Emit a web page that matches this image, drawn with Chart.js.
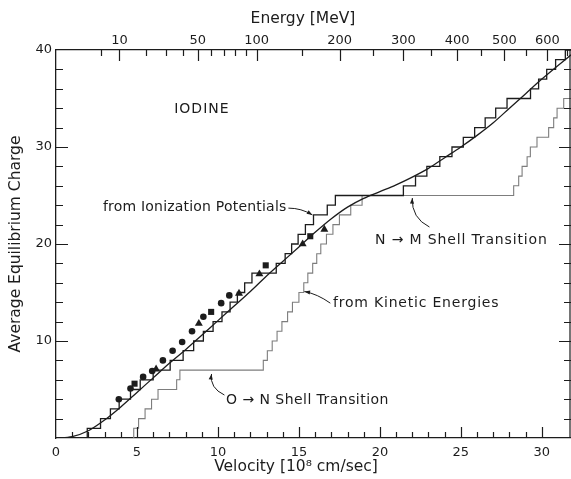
<!DOCTYPE html>
<html>
<head>
<meta charset="utf-8">
<title>Iodine equilibrium charge</title>
<script src="https://cdn.jsdelivr.net/npm/chart.js@4.4.1/dist/chart.umd.min.js"></script>
<style>
    html, body { margin: 0; padding: 0; background: #fff; }
    #chart { display: block; }
</style>
</head>
<body>
<canvas id="chart" width="571" height="479"></canvas>
<script>
// Axis ranges
const VEL_MAX = 31.8;      // velocity, 10^8 cm/sec
const CHARGE_MAX = 40;

// MeV per (10^8 cm/sec)^2 for iodine, places the energy axis on top
const MEV_PER_V2 = 0.652;

// Top axis ticks (MeV) and the ones that carry a label
const energyTicks = [5, 10, 20, 30, 40, 50, 60, 70, 80, 90, 100, 150, 200, 250, 300, 350, 400, 450, 500, 550, 600, 650];
const energyLabels = [10, 50, 100, 200, 300, 400, 500, 600];

// Smooth average equilibrium charge curve
const curveV = [0, 1, 2, 3, 4, 5, 6, 7, 8, 9, 10, 11, 12, 13, 14, 15, 16, 17, 18, 19, 20, 21, 22, 23, 24, 25, 26, 27, 28, 29, 30, 31, 31.8];
const curveQ = [0, 0.15, 0.75, 1.85, 3.2, 4.7, 6.2, 7.7, 9.1, 10.6, 12.1, 13.6, 15.1, 16.7, 18.2, 19.7, 21.2, 22.6, 23.8, 24.7, 25.4, 26.1, 26.9, 27.8, 28.9, 30.0, 31.2, 32.5, 34.0, 35.5, 37.0, 38.4, 39.5];

// Staircase from ionization potentials: velocity at which charge 1, 2, 3 ... is reached
const ionPotStepV = [1.93, 2.75, 3.36, 3.9, 4.6, 5.2, 6.0, 7.05, 7.85, 8.5,
    9.1, 9.7, 10.25, 10.75, 11.2, 11.65, 12.1, 13.6, 14.15, 14.55,
    14.95, 15.4, 15.9, 16.75, 17.25, 21.45, 22.2, 22.9, 23.7, 24.45,
    25.15, 25.85, 26.5, 27.15, 27.85, 29.3, 29.8, 30.3, 30.85, 31.45];

// Staircase from kinetic energies: velocity at which charge 1, 2, 3 ... is reached
const kinEnStepV = [4.8, 5.1, 5.5, 5.9, 6.3, 7.45, 7.65, 12.8, 13.05, 13.35,
    13.65, 13.95, 14.3, 14.6, 15.0, 15.3, 15.55, 15.85, 16.1, 16.35,
    16.7, 17.1, 17.5, 18.2, 18.9, 28.26, 28.57, 28.78, 29.09, 29.29,
    29.7, 30.42, 30.73, 30.94, 31.35];

// Measured points
const circleV = [3.88, 4.6, 5.38, 5.94, 6.6, 7.2, 7.79, 8.4, 9.1, 10.2, 10.7];
const circleQ = [4.0, 5.1, 6.3, 6.9, 8.0, 9.0, 9.9, 11.0, 12.5, 13.9, 14.7];
const squareV = [4.85, 9.58, 12.95, 15.7];
const squareQ = [5.6, 13.0, 17.8, 20.8];
const triangleV = [6.18, 8.82, 11.3, 12.56, 15.23, 16.57];
const triangleQ = [7.1, 11.8, 14.9, 16.9, 20.0, 21.5];

// Labels inside the plot (data coordinates of the left end of each text)
const notes = [
    { text: 'IODINE', v: 7.3, q: 33.9, size: 14, spacing: '1px' },
    { text: 'from Ionization Potentials', v: 2.9, q: 23.8, size: 14, spacing: '0.2px' },
    { text: 'from Kinetic Energies', v: 17.1, q: 13.9, size: 14, spacing: '0.8px' },
    { text: 'N \u2192 M Shell Transition', v: 19.7, q: 20.4, size: 14, spacing: '0.85px' },
    { text: 'O \u2192 N Shell Transition', v: 10.5, q: 3.9, size: 14, spacing: '0.45px' }
];

// Curved pointer arrows: start, control point, tip
const arrows = [
    { from: [14.35, 23.7], ctrl: [15.15, 23.7], to: [15.83, 23.0] },
    { from: [16.94, 13.9], ctrl: [16.14, 14.85], to: [15.34, 15.1] },
    { from: [23.06, 21.75], ctrl: [21.94, 22.68], to: [22.0, 24.74] },
    { from: [10.4, 4.43], ctrl: [9.48, 5.15], to: [9.6, 6.6] }
];

// Horizontal axis titles (pixel centre)
const axisTitles = [
    { text: 'Energy [MeV]', x: 303, y: 19 },
    { text: 'Velocity [10\u2078 cm/sec]', x: 296, y: 467 }
];

const INK = '#1c1c1c';
const GREY = '#7d7d7d';

Chart.defaults.font.family = "'DejaVu Sans', sans-serif";
Chart.defaults.color = INK;

function pairs(xs, ys) {
    return xs.map((x, i) => ({ x: x, y: ys[i] }));
}

// Turn step velocities into points for a 'before' stepped line
function stairPoints(stepV) {
    const pts = [{ x: stepV[0], y: 0 }];
    stepV.forEach((v, i) => pts.push({ x: v, y: i + 1 }));
    pts.push({ x: VEL_MAX, y: stepV.length });
    return pts;
}

function energyOf(v) {
    return Math.round(MEV_PER_V2 * v * v);
}

// Inward tick marks on all four sides plus the right frame line
const frameTicks = {
    id: 'frameTicks',
    afterDraw(chart) {
        const { ctx, chartArea: a, scales } = chart;
        ctx.save();
        ctx.strokeStyle = INK;
        ctx.lineWidth = 1.2;
        ctx.beginPath();
        scales.x.ticks.forEach(t => {
            if (!Number.isInteger(t.value) || t.value === 0) return;
            const px = Math.round(scales.x.getPixelForValue(t.value)) + 0.5;
            const len = t.value % 5 === 0 ? 11 : 6;
            ctx.moveTo(px, a.bottom);
            ctx.lineTo(px, a.bottom - len);
        });
        scales.xTop.ticks.forEach(t => {
            const px = Math.round(scales.xTop.getPixelForValue(t.value)) + 0.5;
            const len = energyLabels.includes(energyOf(t.value)) ? 11 : 6;
            ctx.moveTo(px, a.top);
            ctx.lineTo(px, a.top + len);
        });
        scales.y.ticks.forEach(t => {
            if (t.value <= 0 || t.value >= CHARGE_MAX) return;
            const py = Math.round(scales.y.getPixelForValue(t.value)) + 0.5;
            const len = t.value % 10 === 0 ? 12 : 7;
            ctx.moveTo(a.left, py);
            ctx.lineTo(a.left + len, py);
            ctx.moveTo(a.right, py);
            ctx.lineTo(a.right - len, py);
        });
        ctx.moveTo(a.right - 1, a.top);
        ctx.lineTo(a.right - 1, a.bottom);
        ctx.stroke();

        ctx.fillStyle = INK;
        ctx.font = "15.5px 'DejaVu Sans'";
        ctx.textAlign = 'center';
        ctx.textBaseline = 'middle';
        axisTitles.forEach(t => ctx.fillText(t.text, t.x, t.y));
        ctx.restore();
    }
};

// Text labels and curved arrows
const plotNotes = {
    id: 'plotNotes',
    afterDatasetsDraw(chart) {
        const { ctx, scales } = chart;
        const px = v => scales.x.getPixelForValue(v);
        const py = q => scales.y.getPixelForValue(q);
        ctx.save();
        ctx.fillStyle = INK;
        ctx.textBaseline = 'middle';
        ctx.textAlign = 'left';
        notes.forEach(n => {
            ctx.font = n.size + "px 'DejaVu Sans'";
            ctx.letterSpacing = n.spacing;
            ctx.fillText(n.text, px(n.v), py(n.q));
        });
        ctx.letterSpacing = '0px';

        ctx.strokeStyle = INK;
        ctx.lineWidth = 1;
        arrows.forEach(a => {
            const x0 = px(a.from[0]), y0 = py(a.from[1]);
            const cx = px(a.ctrl[0]), cy = py(a.ctrl[1]);
            const x1 = px(a.to[0]), y1 = py(a.to[1]);
            ctx.beginPath();
            ctx.moveTo(x0, y0);
            ctx.quadraticCurveTo(cx, cy, x1, y1);
            ctx.stroke();
            const ang = Math.atan2(y1 - cy, x1 - cx);
            ctx.beginPath();
            ctx.moveTo(x1, y1);
            ctx.lineTo(x1 - 6 * Math.cos(ang - 0.35), y1 - 6 * Math.sin(ang - 0.35));
            ctx.lineTo(x1 - 6 * Math.cos(ang + 0.35), y1 - 6 * Math.sin(ang + 0.35));
            ctx.closePath();
            ctx.fill();
        });
        ctx.restore();
    }
};

new Chart(document.getElementById('chart'), {
    type: 'scatter',
    data: {
        datasets: [
            {
                label: 'Average charge',
                data: pairs(curveV, curveQ),
                showLine: true,
                borderColor: INK,
                borderWidth: 1.3,
                pointRadius: 0,
                cubicInterpolationMode: 'monotone'
            },
            {
                label: 'from Ionization Potentials',
                data: stairPoints(ionPotStepV),
                showLine: true,
                stepped: 'before',
                borderColor: INK,
                borderWidth: 1.3,
                pointRadius: 0
            },
            {
                label: 'from Kinetic Energies',
                data: stairPoints(kinEnStepV),
                showLine: true,
                stepped: 'before',
                borderColor: GREY,
                borderWidth: 1.1,
                pointRadius: 0
            },
            {
                label: 'circles',
                data: pairs(circleV, circleQ),
                pointStyle: 'circle',
                pointRadius: 3.3,
                backgroundColor: INK,
                borderColor: INK,
                borderWidth: 0
            },
            {
                label: 'squares',
                data: pairs(squareV, squareQ),
                pointStyle: 'rect',
                pointRadius: 4.3,
                backgroundColor: INK,
                borderColor: INK,
                borderWidth: 0
            },
            {
                label: 'triangles',
                data: pairs(triangleV, triangleQ),
                pointStyle: 'triangle',
                pointRadius: 4.6,
                backgroundColor: INK,
                borderColor: INK,
                borderWidth: 0
            }
        ]
    },
    options: {
        responsive: false,
        animation: false,
        layout: { autoPadding: false, padding: 0 },
        plugins: {
            legend: { display: false },
            tooltip: { enabled: false }
        },
        scales: {
            x: {
                type: 'linear',
                position: 'bottom',
                min: 0,
                max: VEL_MAX,
                grid: { display: false, drawTicks: false },
                border: { display: true, color: INK, width: 1.3 },
                ticks: {
                    stepSize: 1,
                    autoSkip: false,
                    maxRotation: 0,
                    padding: 7,
                    color: INK,
                    font: { size: 13 },
                    callback: v => (v % 5 === 0 ? String(v) : '')
                },
                afterFit: s => {
                    s.height = 41;
                    s.paddingLeft = 0;
                    s.paddingRight = 0;
                }
            },
            xTop: {
                type: 'linear',
                position: 'top',
                min: 0,
                max: VEL_MAX,
                grid: { display: false, drawTicks: false },
                border: { display: true, color: INK, width: 1.3 },
                afterBuildTicks: s => {
                    s.ticks = energyTicks.map(e => ({ value: Math.sqrt(e / MEV_PER_V2) }));
                },
                ticks: {
                    autoSkip: false,
                    maxRotation: 0,
                    padding: 2,
                    color: INK,
                    font: { size: 13 },
                    callback: v => {
                        const e = energyOf(v);
                        return energyLabels.includes(e) ? String(e) : '';
                    }
                },
                afterFit: s => {
                    s.height = 50;
                    s.paddingLeft = 0;
                    s.paddingRight = 0;
                }
            },
            y: {
                type: 'linear',
                position: 'left',
                min: 0,
                max: CHARGE_MAX,
                grid: { display: false, drawTicks: false },
                border: { display: true, color: INK, width: 1.3 },
                ticks: {
                    stepSize: 2,
                    autoSkip: false,
                    padding: 4,
                    color: INK,
                    font: { size: 13 },
                    callback: v => (v % 10 === 0 && v !== 0 ? String(v) : '')
                },
                title: {
                    display: true,
                    text: 'Average Equilibrium Charge',
                    color: INK,
                    font: { size: 15.5 },
                    padding: { top: 7, bottom: 0 }
                },
                afterFit: s => {
                    s.width = 56;
                    s.paddingTop = 0;
                    s.paddingBottom = 0;
                }
            }
        }
    },
    plugins: [frameTicks, plotNotes]
});
</script>
</body>
</html>
